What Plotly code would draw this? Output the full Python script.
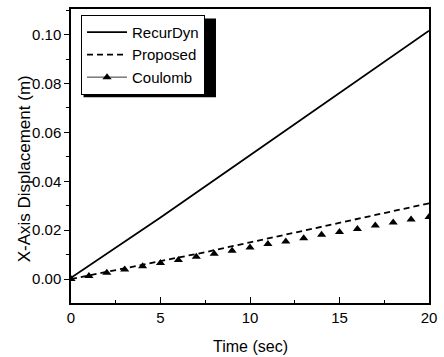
import plotly.graph_objects as go

# Time axis samples (s)
t_recurdyn = [0, 5, 10, 15, 20]
x_recurdyn = [0.0005, 0.0252, 0.0507, 0.0762, 0.1016]

t_proposed = [0, 2.5, 5, 7.5, 10, 12.5, 15, 17.5, 20]
x_proposed = [0.0, 0.0036, 0.0073, 0.0110, 0.0150, 0.0190, 0.0230, 0.0270, 0.0310]

t_coulomb = list(range(0, 21))
x_coulomb = [0.0, 0.0012, 0.0026, 0.0039, 0.0052, 0.0066, 0.0078, 0.0091, 0.0104,
             0.0116, 0.0129, 0.0143, 0.0154, 0.0167, 0.0181, 0.0193, 0.0205,
             0.0219, 0.0231, 0.0244, 0.0254]

x_ticks = [0, 5, 10, 15, 20]
y_ticks = [0.00, 0.02, 0.04, 0.06, 0.08, 0.10]
y_tick_text = ["0.00", "0.02", "0.04", "0.06", "0.08", "0.10"]

FONT = "Liberation Sans, Arial, sans-serif"

# Coulomb points are separated by gaps so only markers appear on the plot,
# while the legend still shows the thin line through the triangle.
cx, cy = [], []
for t, v in zip(t_coulomb, x_coulomb):
    cx += [t, None]
    cy += [v, None]

fig = go.Figure()
fig.add_trace(go.Scatter(x=t_recurdyn, y=x_recurdyn, mode="lines", name="RecurDyn",
                         line=dict(color="black", width=1.8)))
fig.add_trace(go.Scatter(x=t_proposed, y=x_proposed, mode="lines", name="Proposed",
                         line=dict(color="black", width=1.8, dash="6px,4px")))
fig.add_trace(go.Scatter(x=cx, y=cy, mode="lines+markers", name="Coulomb",
                         connectgaps=False,
                         line=dict(color="black", width=0.8),
                         marker=dict(symbol="triangle-up", size=8, color="black")))

fig.update_layout(
    width=444, height=357,
    margin=dict(l=71, r=13, t=7, b=54),
    paper_bgcolor="white", plot_bgcolor="white",
    font=dict(family=FONT, size=15, color="black"),
    showlegend=True,
    legend=dict(x=0.028, y=0.98, xanchor="left", yanchor="top",
                bgcolor="white", bordercolor="black", borderwidth=1,
                font=dict(family=FONT, size=15, color="black"),
                tracegroupgap=0, itemwidth=40),
    xaxis=dict(range=[0, 20], tickvals=x_ticks, ticks="inside", ticklen=6,
               tickwidth=1, tickcolor="black", showline=True, linecolor="black",
               linewidth=1.5, mirror=True, showgrid=False, zeroline=False,
               tickfont=dict(size=15),
               minor=dict(dtick=2.5, ticks="inside", ticklen=3, tickcolor="black")),
    yaxis=dict(range=[-0.0098, 0.1105], tickvals=y_ticks, ticktext=y_tick_text,
               ticks="outside", ticklen=5, tickwidth=1, tickcolor="black",
               showline=True, linecolor="black", linewidth=1.5, mirror=True,
               showgrid=False, zeroline=False, tickfont=dict(size=15),
               minor=dict(dtick=0.01, ticks="outside", ticklen=3, tickcolor="black")),
    shapes=[dict(type="rect", xref="paper", yref="paper",
                 x0=0.035, x1=0.405, y0=0.70, y1=0.968,
                 fillcolor="black", line=dict(width=0), layer="above")],
    annotations=[
        dict(text="Time (sec)", xref="paper", yref="paper", x=0.5, y=-0.148,
             showarrow=False, font=dict(size=16), xanchor="center", yanchor="middle"),
        dict(text="X-Axis Displacement (m)", xref="paper", yref="paper",
             x=-0.131, y=0.455, textangle=-90, showarrow=False, font=dict(size=17),
             xanchor="center", yanchor="middle"),
    ],
)

fig.write_html("out.html")
